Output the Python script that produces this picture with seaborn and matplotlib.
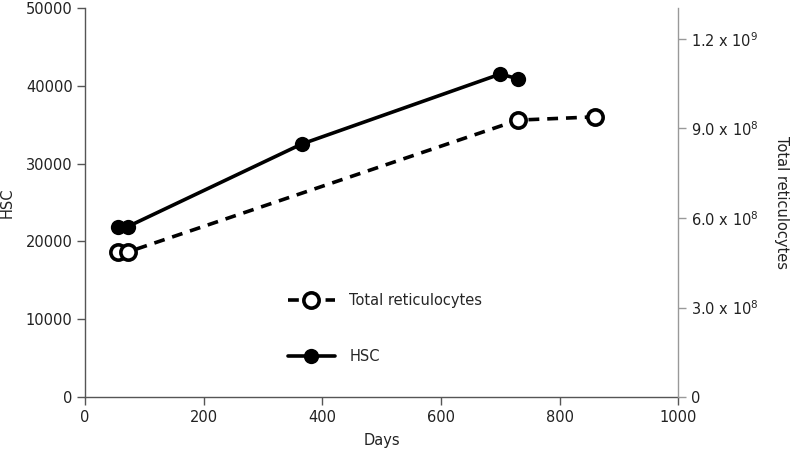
import matplotlib
matplotlib.use("Agg")
import matplotlib.pyplot as plt
import seaborn as sns
import pandas as pd

# data
hsc_days = [56, 72, 365, 700, 730]
hsc_counts = [21900, 21900, 32500, 41500, 40900]
retic_days = [56, 72, 730, 860]
retic_counts = [4.86e8, 4.86e8, 9.28e8, 9.39e8]

x_ticks = [0, 200, 400, 600, 800, 1000]
left_ticks = [0, 10000, 20000, 30000, 40000, 50000]
right_ticks = [0, 3.0e8, 6.0e8, 9.0e8, 1.2e9]
right_labels = ["0", r"3.0 x 10$^8$", r"6.0 x 10$^8$", r"9.0 x 10$^8$", r"1.2 x 10$^9$"]

sns.set_style("white")
plt.rcParams["font.family"] = ["DejaVu Sans"]
plt.rcParams["mathtext.default"] = "regular"
plt.rcParams["font.size"] = 10.5

hsc_df = pd.DataFrame({"Days": hsc_days, "HSC": hsc_counts})
retic_df = pd.DataFrame({"Days": retic_days, "Total reticulocytes": retic_counts})

fig = plt.figure(figsize=(7.95, 4.66), dpi=100)
ax = fig.add_axes([0.107, 0.148, 0.746, 0.835])
ax2 = ax.twinx()

sns.lineplot(data=hsc_df, x="Days", y="HSC", ax=ax, color="black",
             linewidth=2.6, marker="o", markersize=11, markeredgewidth=0,
             label="HSC", legend=False)
sns.lineplot(data=retic_df, x="Days", y="Total reticulocytes", ax=ax2, color="black",
             linewidth=2.6, linestyle=(0, (3, 2.2)), marker="o", markersize=11,
             markerfacecolor="white", markeredgecolor="black", markeredgewidth=2.6,
             label="Total reticulocytes", legend=False)

ax.set_xlim(0, 1000)
ax.set_ylim(0, 50000)
ax2.set_ylim(0, 1.304e9)
ax.set_xticks(x_ticks)
ax.set_yticks(left_ticks)
ax2.set_yticks(right_ticks)
ax2.set_yticklabels(right_labels)

for a in (ax, ax2):
    a.spines["top"].set_visible(False)
    for s in a.spines.values():
        s.set_linewidth(1.0)
ax.spines["left"].set_color("#555555")
ax.spines["bottom"].set_color("#555555")
ax.spines["right"].set_visible(False)
ax2.spines["left"].set_visible(False)
ax2.spines["bottom"].set_visible(False)
ax2.spines["right"].set_color("#999999")

ax.tick_params(axis="both", direction="out", length=6, width=1, color="#555555",
               labelsize=10.5, labelcolor="#222222", left=True, bottom=True, pad=3)
ax2.tick_params(axis="y", direction="out", length=6, width=1, color="#999999",
                labelsize=10.5, labelcolor="#222222", right=True, pad=3)

ax.set_xlabel("Days", fontsize=10.5, color="#222222", labelpad=6)
ax.set_ylabel("HSC", fontsize=10.5, color="#222222")
ax.yaxis.set_label_coords(-0.118, 0.5)
ax2.set_ylabel("Total reticulocytes", fontsize=10.5, color="#222222",
               rotation=270, labelpad=22)

h1, l1 = ax2.get_legend_handles_labels()
h2, l2 = ax.get_legend_handles_labels()
ax.legend(h1 + h2, l1 + l2, loc="upper left", bbox_to_anchor=(0.32, 0.3),
          frameon=False, handlelength=3.2, labelspacing=2.8, fontsize=10.5,
          handletextpad=1.0)

fig.savefig("out.png", dpi=100)
